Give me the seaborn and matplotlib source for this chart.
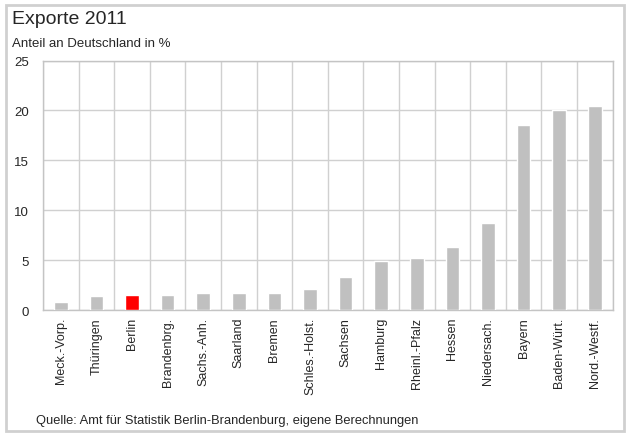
import numpy as np
import matplotlib
matplotlib.use("Agg")
import matplotlib.pyplot as plt
import seaborn as sns
from matplotlib.patches import Rectangle

# Daten
laender = ['Meck.-Vorp.', 'Thüringen', 'Berlin', 'Brandenbrg.', 'Sachs.-Anh.',
           'Saarland', 'Bremen', 'Schles.-Holst.', 'Sachsen', 'Hamburg',
           'Rheinl.-Pfalz', 'Hessen', 'Niedersach.', 'Bayern', 'Baden-Würt.',
           'Nord.-Westf.']
anteil = [0.8, 1.4, 1.5, 1.5, 1.7, 1.7, 1.7, 2.1, 3.3, 4.9, 5.2, 6.3, 8.7,
          18.5, 20.0, 20.4]
y_ticks = [0, 5, 10, 15, 20, 25]

farben = {l: ('#ff0000' if l == 'Berlin' else '#c0c0c0') for l in laender}

sns.set_style('white')
plt.rcParams['font.family'] = ['Liberation Sans', 'DejaVu Sans']

fig = plt.figure(figsize=(6.28, 4.35), dpi=100)
ax = fig.add_axes([0.0685, 0.285, 0.907, 0.5735])

sns.barplot(x=laender, y=anteil, hue=laender, palette=farben, legend=False,
            width=0.385, saturation=1, ax=ax, zorder=3)

ax.set_xlim(-0.5, len(laender) - 0.5)
ax.set_ylim(0, 25)
ax.set_yticks(y_ticks)
ax.set_xticks(np.arange(-0.5, len(laender), 1), minor=True)
ax.grid(True, axis='y', color='#d0d0d0', lw=1)
ax.grid(True, axis='x', which='minor', color='#d0d0d0', lw=1)
ax.grid(False, axis='x', which='major')
ax.set_axisbelow(True)
ax.tick_params(axis='both', which='both', length=0)
ax.tick_params(axis='y', pad=10, labelsize=9.5)
ax.set_xticks(range(len(laender)))
ax.set_xticklabels(laender, rotation=90, ha='center', va='top', fontsize=9)
ax.tick_params(axis='x', pad=5)
ax.set_xlabel('')
ax.set_ylabel('')
for s in ax.spines.values():
    s.set_color('#c4c4c4')
    s.set_linewidth(1)

fig.text(12 / 628, 1 - 20 / 435, 'Exporte 2011', fontsize=14, va='center', ha='left')
fig.text(12 / 628, 1 - 44 / 435, 'Anteil an Deutschland in %', fontsize=9.5, va='center', ha='left')
fig.text(36 / 628, 1 - 421 / 435,
         'Quelle: Amt für Statistik Berlin-Brandenburg, eigene Berechnungen',
         fontsize=9.3, va='center', ha='left')

fig.patches.append(Rectangle((6 / 628, 3 / 435), 618 / 628, 426 / 435,
                             transform=fig.transFigure, fill=False,
                             edgecolor='#d0d0d0', lw=2))

fig.savefig('out.png', dpi=100)
